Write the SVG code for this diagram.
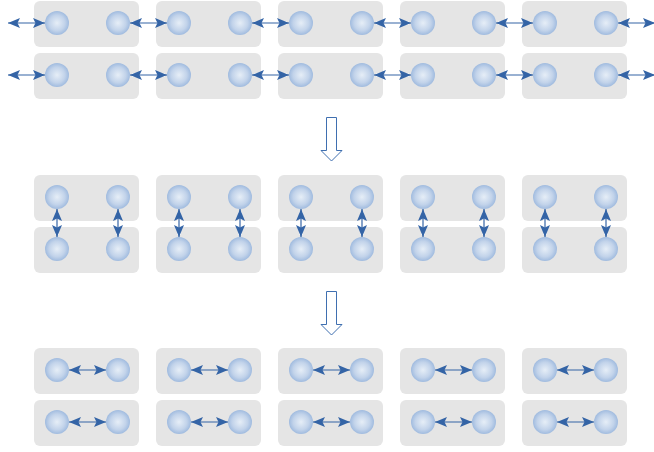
<svg xmlns="http://www.w3.org/2000/svg" width="654" height="452" viewBox="0 0 654 452">
<defs>
<radialGradient id="g" cx="0.5" cy="0.5" r="0.5">
<stop offset="0" stop-color="#e6eef7"/>
<stop offset="0.65" stop-color="#c2d3ea"/>
<stop offset="1" stop-color="#a0bbdf"/>
</radialGradient>
<marker id="ah" viewBox="0 0 12 10" refX="12" refY="5" markerWidth="12" markerHeight="10" markerUnits="userSpaceOnUse" orient="auto-start-reverse">
<path d="M0,0 L12,5 L0,10 L2.5,5 z" fill="#3464a6"/>
</marker>
<style>
.box{fill:#e5e5e5}
.c{fill:url(#g)}
.halo{stroke:#ffffff;stroke-width:3.5;fill:none}
.ln{stroke:#3464a6;stroke-width:1.2;fill:none;marker-start:url(#ah);marker-end:url(#ah)}
.big{fill:#ffffff;stroke:#3f6fb0;stroke-width:1}
</style>
<g id="node">
<rect class="box" x="0" y="0" width="105" height="46" rx="6"/>
<circle class="c" cx="23" cy="22" r="12"/>
<circle class="c" cx="84" cy="22" r="12"/>
</g>
</defs>

<g id="stage1">
<use href="#node" x="34" y="1"/><use href="#node" x="156" y="1"/><use href="#node" x="278" y="1"/><use href="#node" x="400" y="1"/><use href="#node" x="522" y="1"/>
<use href="#node" x="34" y="53"/><use href="#node" x="156" y="53"/><use href="#node" x="278" y="53"/><use href="#node" x="400" y="53"/><use href="#node" x="522" y="53"/>
</g>
<g id="stage2">
<use href="#node" x="34" y="175"/><use href="#node" x="156" y="175"/><use href="#node" x="278" y="175"/><use href="#node" x="400" y="175"/><use href="#node" x="522" y="175"/>
<use href="#node" x="34" y="227"/><use href="#node" x="156" y="227"/><use href="#node" x="278" y="227"/><use href="#node" x="400" y="227"/><use href="#node" x="522" y="227"/>
</g>
<g id="stage3">
<use href="#node" x="34" y="348"/><use href="#node" x="156" y="348"/><use href="#node" x="278" y="348"/><use href="#node" x="400" y="348"/><use href="#node" x="522" y="348"/>
<use href="#node" x="34" y="400"/><use href="#node" x="156" y="400"/><use href="#node" x="278" y="400"/><use href="#node" x="400" y="400"/><use href="#node" x="522" y="400"/>
</g>

<g id="connectors">
<path class="halo" d="M10,23H43M132,23H165M254,23H287M376,23H409M498,23H531M620,23H654M10,75H43M132,75H165M254,75H287M376,75H409M498,75H531M620,75H654"/>
<path class="ln" d="M8,23H45"/><path class="ln" d="M130,23H167"/><path class="ln" d="M252,23H289"/><path class="ln" d="M374,23H411"/><path class="ln" d="M496,23H533"/><path class="ln" d="M618,23H655"/>
<path class="ln" d="M8,75H45"/><path class="ln" d="M130,75H167"/><path class="ln" d="M252,75H289"/><path class="ln" d="M374,75H411"/><path class="ln" d="M496,75H533"/><path class="ln" d="M618,75H655"/>

<path class="halo" d="M57,212V235M118,212V235M179,212V235M240,212V235M301,212V235M362,212V235M423,212V235M484,212V235M545,212V235M606,212V235"/>
<path class="ln" d="M57,209V237"/><path class="ln" d="M118,209V237"/><path class="ln" d="M179,209V237"/><path class="ln" d="M240,209V237"/><path class="ln" d="M301,209V237"/><path class="ln" d="M362,209V237"/><path class="ln" d="M423,209V237"/><path class="ln" d="M484,209V237"/><path class="ln" d="M545,209V237"/><path class="ln" d="M606,209V237"/>

<path class="ln" d="M69,370H106"/><path class="ln" d="M191,370H228"/><path class="ln" d="M313,370H350"/><path class="ln" d="M435,370H472"/><path class="ln" d="M557,370H594"/>
<path class="ln" d="M69,422H106"/><path class="ln" d="M191,422H228"/><path class="ln" d="M313,422H350"/><path class="ln" d="M435,422H472"/><path class="ln" d="M557,422H594"/>
</g>

<g id="transition1">
<path class="big" d="M326.5,117.5H336.5V150.5H342L331.5,161L321,150.5H326.5Z"/>
</g>
<g id="transition2">
<path class="big" d="M326.5,291.5H336.5V324.5H342L331.5,335L321,324.5H326.5Z"/>
</g>
</svg>
